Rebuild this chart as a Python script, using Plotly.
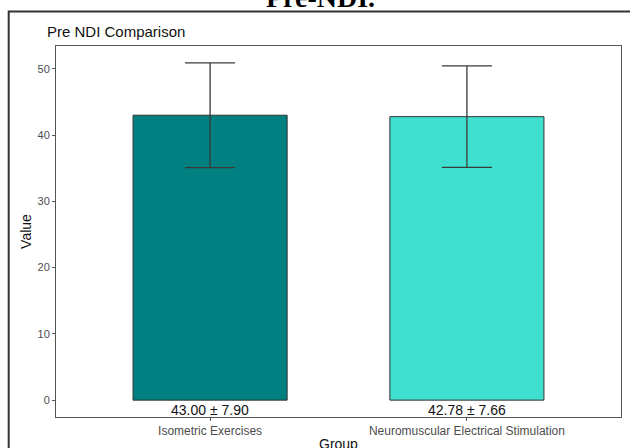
import plotly.graph_objects as go

groups = ["Isometric Exercises", "Neuromuscular Electrical Stimulation"]
means = [43.00, 42.78]
sds = [7.90, 7.66]
bar_colors = ["#008080", "#40E0D0"]
value_labels = [f"{m:.2f} ± {s:.2f}" for m, s in zip(means, sds)]
y_ticks = [0, 10, 20, 30, 40, 50]

W, H = 630, 448
ML, MR, MT, MB = 56, 9, 46, 31
PW, PH = W - ML - MR, H - MT - MB

ymax = max(m + s for m, s in zip(means, sds))
pad = ymax * 0.05
yrange = [-pad, ymax + pad]

def px_to_paper_x(px):
    return (px - ML) / PW

def px_to_paper_y(py):
    return (H - MB - py) / PH

FONT = "Liberation Sans, Arial, sans-serif"

fig = go.Figure()
fig.add_trace(go.Bar(
    x=groups, y=means,
    width=0.6,
    marker=dict(color=bar_colors, line=dict(color="#333333", width=1)),
    error_y=dict(type="data", array=sds, visible=True, color="#3a3a3a", thickness=1.3, width=25),
    showlegend=False,
))

for g, lab in zip(groups, value_labels):
    fig.add_annotation(x=g, y=-1.45, text=lab, showarrow=False, xref="x", yref="y",
                       yanchor="middle", font=dict(family=FONT, size=14, color="#111111"))

# x-axis title (placed explicitly so it sits partly below the page edge like the source)
fig.add_annotation(x=0.5, y=px_to_paper_y(444), xref="paper", yref="paper", text="Group",
                   showarrow=False, xanchor="center", yanchor="middle",
                   font=dict(family=FONT, size=14, color="#111111"))

# cut-off heading of the source page
fig.add_annotation(x=px_to_paper_x(320), y=px_to_paper_y(15), xref="paper", yref="paper",
                   text="<b>Pre-NDI.</b>", showarrow=False, xanchor="center", yanchor="bottom",
                   font=dict(family="Liberation Serif, Times New Roman, serif", size=28, color="#000000"))

# outer frame of the source figure
fig.add_shape(type="rect", xref="paper", yref="paper",
              x0=px_to_paper_x(8.7), x1=px_to_paper_x(645),
              y0=px_to_paper_y(470), y1=px_to_paper_y(11.5),
              line=dict(color="#333333", width=2), fillcolor="rgba(0,0,0,0)", layer="above")

fig.update_layout(
    width=W, height=H,
    margin=dict(l=ML, r=MR, t=MT, b=MB),
    paper_bgcolor="white", plot_bgcolor="white",
    bargap=0.4,
    title=dict(text="Pre NDI Comparison", x=47 / W, xref="container", xanchor="left",
               y=1 - 32 / H, yref="container", yanchor="middle",
               font=dict(family=FONT, size=15, color="#111111")),
    font=dict(family=FONT),
)
fig.update_xaxes(
    range=[-0.6, 1.6], showgrid=False, zeroline=False,
    showline=True, mirror=True, linecolor="#555555", linewidth=1,
    ticks="outside", ticklen=3, tickcolor="#555555",
    tickfont=dict(family=FONT, size=12, color="#4d4d4d"),
    automargin=False,
)
fig.update_yaxes(
    range=yrange, tickvals=y_ticks, showgrid=False, zeroline=False,
    showline=True, mirror=True, linecolor="#555555", linewidth=1,
    ticks="outside", ticklen=3, tickcolor="#555555",
    tickfont=dict(family=FONT, size=11, color="#4d4d4d"),
    title=dict(text="Value", standoff=2, font=dict(family=FONT, size=14, color="#111111")),
    automargin=False,
)

fig.write_html("out.html", config={"displayModeBar": False},
               post_script="document.body.style.margin='0';document.body.style.overflow='hidden';")
